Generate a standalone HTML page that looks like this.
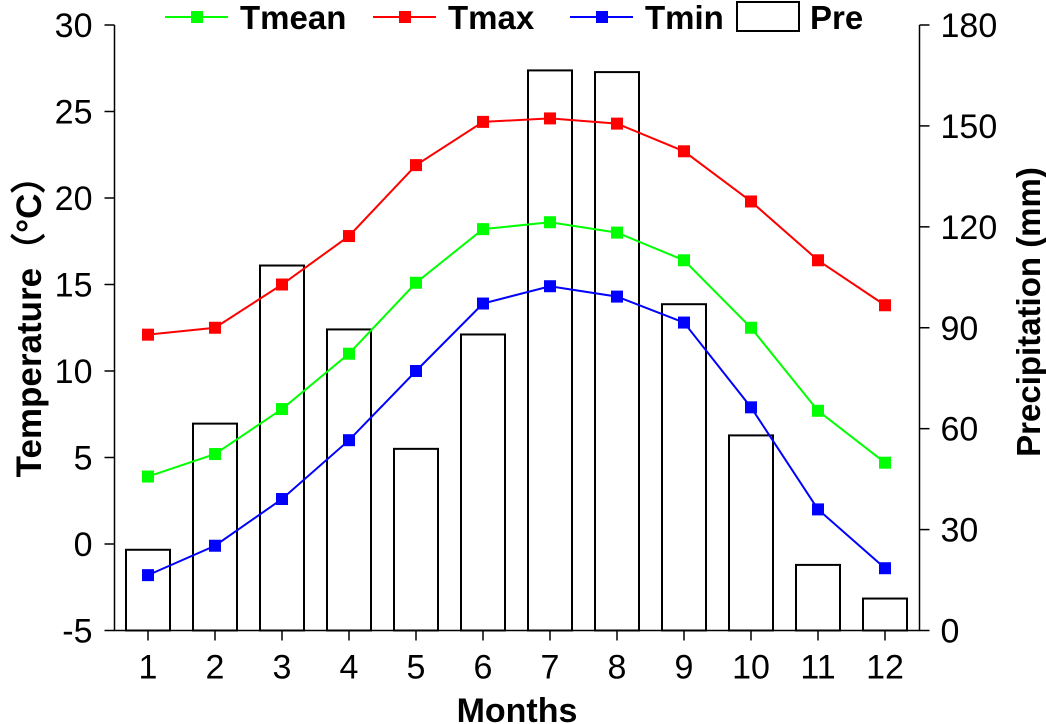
<!DOCTYPE html>
<html><head><meta charset="utf-8"><style>body{margin:0;background:#fff}svg{display:block}text{font-family:"Liberation Sans",Arial,sans-serif;fill:#000}</style></head>
<body>
<svg id="chart" width="1046" height="724"></svg>
<script>
const months=[1,2,3,4,5,6,7,8,9,10,11,12];
const tmean=[3.9,5.2,7.8,11.0,15.1,18.2,18.6,18.0,16.4,12.5,7.7,4.7];
const tmax=[12.1,12.5,15.0,17.8,21.9,24.4,24.6,24.3,22.7,19.8,16.4,13.8];
const tmin=[-1.8,-0.1,2.6,6.0,10.0,13.9,14.9,14.3,12.8,7.9,2.0,-1.4];
const pre=[24,61.5,108.5,89.5,54,88,166.5,166,97,58,19.5,9.5];
const leftTicks=[-5,0,5,10,15,20,25,30];
const rightTicks=[0,30,60,90,120,150,180];

const svg=document.getElementById('chart');
const NS='http://www.w3.org/2000/svg';
const L=114.5,R=919.5,T=25,B=630.5;
const x=m=>148+(m-1)*67;
const yT=v=>B-(v+5)/35*(B-T);
const yP=v=>B-v/180*(B-T);
function mk(tag,attrs,parent){const e=document.createElementNS(NS,tag);for(const k in attrs)e.setAttribute(k,attrs[k]);(parent||svg).appendChild(e);return e;}

const gb=mk('g',{});


pre.forEach((v,i)=>{const r=mk('rect',{x:x(months[i])-22,y:yP(v),width:44,height:B-yP(v),fill:'#fff',stroke:'#000','stroke-width':2},gb);

});

const ax=mk('path',{d:`M${L},${T}V${B}H${R}V${T}`,fill:'none',stroke:'#000','stroke-width':1.5});


leftTicks.forEach(v=>{mk('line',{x1:L-10,x2:L,y1:yT(v),y2:yT(v),stroke:'#000','stroke-width':1.5});
const t=mk('text',{x:L-22,y:yT(v)+12,'font-size':34,'text-anchor':'end'});t.textContent=v;

});
rightTicks.forEach(v=>{mk('line',{x1:R,x2:R+10,y1:yP(v),y2:yP(v),stroke:'#000','stroke-width':1.5});
const t=mk('text',{x:R+21,y:yP(v)+12,'font-size':34});t.textContent=v;

});
months.forEach(m=>{mk('line',{x1:x(m),x2:x(m),y1:B,y2:B+10,stroke:'#000','stroke-width':1.5});
const t=mk('text',{x:x(m),y:B+48,'font-size':34,'text-anchor':'middle'});t.textContent=m;

});

function series(data,color,name){const g=mk('g',{});


mk('polyline',{points:data.map((v,i)=>x(months[i])+','+yT(v)).join(' '),fill:'none',stroke:color,'stroke-width':2},g);
data.forEach((v,i)=>{const r=mk('rect',{x:x(months[i])-6,y:yT(v)-6,width:12,height:12,fill:color},g);

});}
series(tmean,'#00ff00','tmean-line');
series(tmax,'#ff0000','tmax-line');
series(tmin,'#0000ff','tmin-line');

const xt=mk('text',{x:517,y:722,'font-size':34,'font-weight':'bold','text-anchor':'middle'});xt.textContent='Months';


const yl=mk('text',{transform:'translate(41,318) rotate(-90)','font-size':35,'font-weight':'bold','text-anchor':'middle'});yl.textContent='Temperature（°C）';


const yr=mk('text',{transform:'translate(1040,312) rotate(-90)','font-size':33,'font-weight':'bold','text-anchor':'middle'});yr.textContent='Precipitation (mm)';



function legLine(x0,color,label,name){const g=mk('g',{});


mk('line',{x1:x0,x2:x0+63,y1:17,y2:17,stroke:color,'stroke-width':2},g);
mk('rect',{x:x0+26,y:11,width:12,height:12,fill:color},g);
const t=mk('text',{x:x0+75,y:29,'font-size':33,'font-weight':'bold'},g);t.textContent=label;}
legLine(165,'#00ff00','Tmean','legend-tmean');
legLine(373,'#ff0000','Tmax','legend-tmax');
legLine(570,'#0000ff','Tmin','legend-tmin');
const gp=mk('g',{});


mk('rect',{x:737,y:2,width:62,height:29,fill:'#fff',stroke:'#000','stroke-width':2},gp);
const tp=mk('text',{x:810,y:29,'font-size':33,'font-weight':'bold'},gp);tp.textContent='Pre';
</script>
</body></html>
